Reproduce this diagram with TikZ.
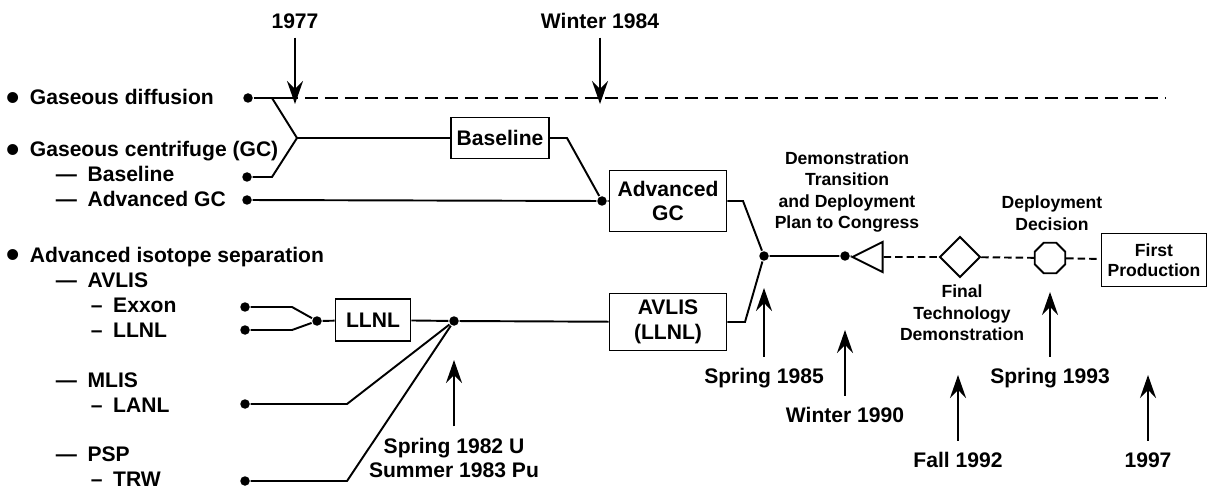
\documentclass[tikz,border=0pt]{standalone}
\usepackage{fontspec}
\setmainfont{Liberation Sans}
\usepackage{tikz}
\usetikzlibrary{arrows.meta,shapes.geometric,positioning}

\newcommand{\bigbul}{\raisebox{-3.2pt}{\scalebox{1.8}{•}}\hspace{5.5pt}}

\begin{document}
\begin{tikzpicture}[x=0.02cm, y=-0.02cm, line width=1.1pt,
    big/.style={font=\fontsize{12}{14}\selectfont\bfseries},
    small/.style={font=\fontsize{10}{12.3}\selectfont\bfseries},
    item/.style={big, anchor=base west, inner sep=0pt},
    junction/.style={circle, fill, inner sep=0pt, minimum size=1.9mm},
    stage/.style={draw, big, align=center, inner sep=0pt},
    note/.style={small, align=center, inner sep=0pt},
    datelabel/.style={big, inner sep=0pt, text height=8.6pt, text depth=0pt},
    datearrow/.style={-{Stealth[length=4.6mm, width=3.2mm, inset=1.6mm]}},
    longdash/.style={dash pattern=on 2.6mm off 1.4mm},
    shortdash/.style={dash pattern=on 1.5mm off 0.8mm}]

  \useasboundingbox (0,0) rectangle (1212,489);

  % Technologies listed on the left
  \node[item] (lgd) at (6,105) {\bigbul Gaseous diffusion};
  \node[item] (lgc) at (6,157) {\bigbul Gaseous centrifuge (GC)};
  \node[item] (lgcb) at (55,182) {—\enspace Baseline};
  \node[item] (lgca) at (55,207) {—\enspace Advanced GC};
  \node[item] (lais) at (6,262) {\bigbul Advanced isotope separation};
  \node[item] (lavlis) at (55,287) {—\enspace AVLIS};
  \node[item] (lexx) at (90,312) {–\enspace Exxon};
  \node[item] (llln) at (90,337) {–\enspace LLNL};
  \node[item] (lmlis) at (55,387) {—\enspace MLIS};
  \node[item] (llanl) at (90,412) {–\enspace LANL};
  \node[item] (lpsp) at (55,461) {—\enspace PSP};
  \node[item] (ltrw) at (90,486) {–\enspace TRW};

  % Starting points
  \node[junction] (gd) at (248,98) {};
  \node[junction] (gcb) at (247,177) {};
  \node[junction] (gca) at (247,200) {};
  \node[junction] (exx) at (245,307) {};
  \node[junction] (lln) at (245,330) {};
  \node[junction] (lanl) at (245,404) {};
  \node[junction] (trw) at (245,481) {};

  % Stages
  \node[stage, minimum width=19.6mm, minimum height=8.2mm] (base) at (500,138) {Baseline};
  \node[stage, minimum width=23.4mm, minimum height=12.2mm] (agc) at (668,201) {Advanced\\GC};
  \node[stage, minimum width=23.4mm, minimum height=11.4mm] (avlis) at (668,322) {AVLIS\\(LLNL)};
  \node[stage, minimum width=15mm, minimum height=8.4mm] (llnl) at (373,320) {LLNL};
  \node[stage, font=\fontsize{10}{11.5}\selectfont\bfseries, minimum width=21mm, minimum height=10.6mm] (first) at (1154,260) {First\\Production};

  % Joints
  \node[junction] (agcin) at (602,201) {};
  \node[junction] (avin) at (317,321) {};
  \node[junction] (llout) at (454,321) {};
  \node[junction] (mrg) at (764,256) {};
  \node[junction] (plandot) at (845,256) {};
  \coordinate (gdfork) at (272,98);
  \coordinate (gdsplit) at (285,98);
  \coordinate (gdend) at (1165,98);
  \coordinate (gcfork) at (297,138);

  % Milestones
  \node[draw, isosceles triangle, shape border rotate=180, isosceles triangle stretches,
    minimum width=6mm, minimum height=6mm, inner sep=0pt, anchor=apex] (plan) at (850,257) {};
  \node[draw, diamond, minimum size=8.2mm, inner sep=0pt] (ftd) at (960,257) {};
  \node[draw, regular polygon, regular polygon sides=8, minimum size=6.6mm, inner sep=0pt] (dd) at (1050,258) {};

  \node[note] (nplan) at (847,192) {Demonstration\\Transition\\and Deployment\\Plan to Congress};
  \node[note] (ndd) at (1052,213) {Deployment\\Decision};
  \node[note] (nftd) at (962,313) {Final\\Technology\\Demonstration};

  % Connections
  \draw (gd) -- (gdsplit);
  \draw[longdash] (gdsplit) -- (gdend);
  \draw (gdfork) -- (gcfork) -- (272,177) -- (gcb);
  \draw (gcfork) -- (base);
  \draw (base) -- (567,138) -- (agcin);
  \draw (gca) -- (agcin) -- (agc);
  \draw (agc) -- (743,201) -- (mrg);

  \draw (exx) -- (292,307) -- (avin);
  \draw (lln) -- (292,330) -- (avin);
  \draw (avin) -- (llnl) -- (llout);
  \draw (llout) -- (avlis);
  \draw (lanl) -- (347,404) -- (llout);
  \draw (trw) -- (347,481) -- (llout);
  \draw (avlis) -- (745,322) -- (mrg);

  \draw (mrg) -- (plandot) -- (plan);
  \draw[shortdash] (plan) -- (ftd) -- (dd) -- (first);

  % Dates
  \node[datelabel] (y1977) at (295,21) {1977};
  \node[datelabel] (w1984) at (600,21) {Winter 1984};
  \node[big, align=center, inner sep=0pt] (s1982) at (454,458) {Spring 1982 U\\Summer 1983 Pu};
  \node[datelabel] (s1985) at (764,376) {Spring 1985};
  \node[datelabel] (w1990) at (845,415) {Winter 1990};
  \node[datelabel] (f1992) at (958,460) {Fall 1992};
  \node[datelabel] (s1993) at (1050,376) {Spring 1993};
  \node[datelabel] (y1997) at (1148,460) {1997};

  \coordinate (t1977) at (295,104);
  \coordinate (t1984) at (600,104);
  \coordinate (t1982) at (454,360);
  \coordinate (t1985) at (764,288);
  \coordinate (t1990) at (845,330);
  \coordinate (t1992) at (958,375);
  \coordinate (t1993) at (1050,292);
  \coordinate (t1997) at (1148,375);

  \draw[datearrow, shorten <=1.6mm] (y1977) -- (t1977);
  \draw[datearrow, shorten <=1.6mm] (w1984) -- (t1984);
  \draw[datearrow, shorten <=2.1mm] (s1982) -- (t1982);
  \draw[datearrow, shorten <=2.1mm] (s1985) -- (t1985);
  \draw[datearrow, shorten <=2.1mm] (w1990) -- (t1990);
  \draw[datearrow, shorten <=2.1mm] (f1992) -- (t1992);
  \draw[datearrow, shorten <=2.1mm] (s1993) -- (t1993);
  \draw[datearrow, shorten <=2.1mm] (y1997) -- (t1997);

\end{tikzpicture}
\end{document}
